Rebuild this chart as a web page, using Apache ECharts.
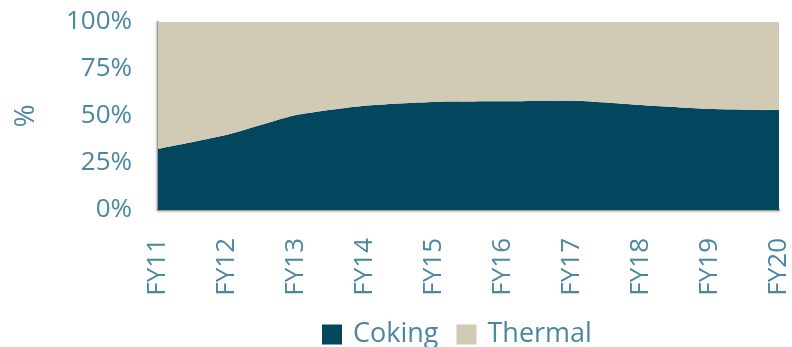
<!DOCTYPE html>
<html>
<head>
<meta charset="utf-8">
<script src="https://cdn.jsdelivr.net/npm/echarts@6/dist/echarts.min.js"></script>
<style>html,body{margin:0;padding:0;background:#fff}#c{width:792px;height:347px}</style>
</head>
<body>
<div id="c"></div>
<script>
const categories = ['FY11','FY12','FY13','FY14','FY15','FY16','FY17','FY18','FY19','FY20'];
const coking = [32.5, 40, 50.5, 55.5, 57.5, 57.8, 58.1, 55.8, 53.7, 53.1];
const thermal = [67.5, 60, 49.5, 44.5, 42.5, 42.2, 41.9, 44.2, 46.3, 46.9];
const yTicks = ['0%','25%','50%','75%','100%'];

const txt = '#4a87a2';
const font = 'Open Sans';
const chart = echarts.init(document.getElementById('c'));
chart.setOption({
  animation: false,
  grid: {left: 158, right: 12, top: 22, bottom: 137, containLabel: false},
  legend: {
    top: 321, left: 322, itemWidth: 20, itemHeight: 20, itemGap: 18,
    icon: 'rect', padding: 0,
    textStyle: {color: txt, fontFamily: font, fontSize: 27, padding: [0,0,0,6]},
    data: ['Coking','Thermal']
  },
  xAxis: {
    type: 'category', data: categories, boundaryGap: false,
    axisLine: {lineStyle: {color: '#9a9a9a', width: 2, shadowColor: 'rgba(0,0,0,0.25)', shadowBlur: 2, shadowOffsetY: 1}},
    axisTick: {show: false},
    axisLabel: {rotate: 90, margin: 28, color: txt, fontFamily: font, fontSize: 26}
  },
  yAxis: {
    type: 'value', min: 0, max: 100, interval: 25,
    name: '%', nameLocation: 'middle', nameRotate: 90, nameGap: 118,
    nameTextStyle: {color: txt, fontFamily: font, fontSize: 28},
    axisLine: {show: true, lineStyle: {color: '#9a9a9a', width: 2, shadowColor: 'rgba(0,0,0,0.25)', shadowBlur: 2, shadowOffsetX: -1}},
    axisTick: {show: false},
    splitLine: {show: false},
    axisLabel: {margin: 26, color: txt, fontFamily: font, fontSize: 26,
      formatter: v => yTicks[Math.round(v/25)]}
  },
  series: [
    {name: 'Coking', type: 'line', stack: 'a', data: coking, smooth: 0.2, symbol: 'none',
      lineStyle: {width: 0}, areaStyle: {color: '#02475d', opacity: 1}, itemStyle: {color: '#02475d'}},
    {name: 'Thermal', type: 'line', stack: 'a', data: thermal, smooth: 0.2, symbol: 'none',
      lineStyle: {width: 0}, areaStyle: {color: '#d1cab5', opacity: 1}, itemStyle: {color: '#d1cab5'}}
  ]
});
</script>
</body>
</html>
